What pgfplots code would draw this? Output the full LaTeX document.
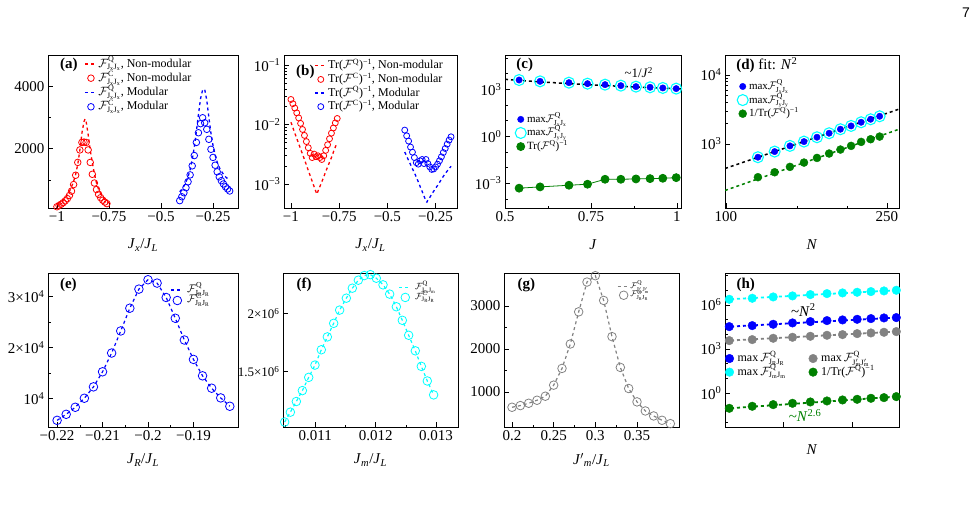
\documentclass[border=0pt]{standalone}
\usepackage{fontspec}
\setmainfont{Liberation Serif}
\setsansfont{Liberation Sans}
\usepackage{pgfplots}
\pgfplotsset{compat=1.18}
\definecolor{xgreen}{RGB}{0,128,0}
\definecolor{xcyan}{RGB}{0,255,255}
\definecolor{xgray}{RGB}{130,130,130}
\definecolor{xblue}{RGB}{0,0,255}
\definecolor{xred}{RGB}{255,0,0}
\newcommand{\tfont}{\fontsize{15}{17}\selectfont}
\newcommand{\JJ}[2]{\textit{J}\textsubscript{\textit{#1}}/\textit{J}\textsubscript{\textit{#2}}}
\newcommand{\FF}[2]{$\mathcal{F}^{\mathrm{#1}}_{\mathrm{#2}}$}
\tikzset{plab/.style={anchor=west, font=\bfseries\fontsize{15}{15}\selectfont}}
\pgfplotsset{
  panel/.style={scale only axis, anchor=south west, height=153pt,
    axis line style={line width=0.7pt}, tick align=inside, xtick pos=bottom, ytick pos=left,
    major tick length=5pt, minor tick length=2.5pt,
    every tick/.append style={line width=0.6pt, black},
    tick label style={font=\tfont},
    xlabel style={font=\tfont, at={(axis description cs:0.5,0)}, anchor=center, yshift=-37pt},
    /pgf/number format/assume math mode=true, /pgf/number format/1000 sep={},
    scaled ticks=false,
    legend cell align=left,
    legend style={draw=none, fill=none, anchor=north west, inner sep=0pt, row sep=0pt,
       nodes={inner sep=0.8pt, text height=9.5pt, text depth=3.2pt}},
  },
  lline/.style={legend image code/.code={\draw[#1, dashed, line width=1.3pt] (0pt,0pt) -- (12pt,0pt);}},
  lsline/.style={legend image code/.code={\draw[#1, dashed, line width=1.2pt] (0pt,0pt) -- (9pt,0pt);}},
  lmark/.style={legend image code/.code={\draw[##1] plot coordinates {(6pt,0pt)};}},
}
\begin{document}
\begin{tikzpicture}
\useasboundingbox (0pt,0pt) rectangle (974pt,507pt);
\node[font=\sffamily\fontsize{14}{14}\selectfont] at (966pt,494pt) {7};

% ---------------- (a)
\begin{axis}[panel, at={(48pt,299pt)}, width=190pt, xmin=-1.043, xmax=-0.13, ymin=100, ymax=5000,
  xtick={-1,-0.75,-0.5,-0.25}, xticklabels={−1,−0.75,−0.5,−0.25},
  ytick={2000,4000}, minor ytick={1000,3000},
  xlabel={\JJ{x}{L}},
  legend style={at={(0.19,0.99)}, font=\fontsize{12}{13}\selectfont}]
\addplot[xred, dashed, line width=1.3pt, lline=xred] coordinates {
(-1.00,200)(-0.99,240)(-0.98,290)(-0.97,350)(-0.96,420)(-0.95,510)(-0.94,630)(-0.93,780)(-0.92,950)(-0.91,1180)(-0.90,1500)(-0.89,1950)(-0.88,2500)(-0.87,2870)(-0.865,2950)(-0.86,2880)(-0.85,2450)(-0.84,1950)(-0.83,1550)(-0.82,1200)(-0.81,900)(-0.80,700)(-0.79,560)(-0.78,450)(-0.77,370)(-0.76,310)(-0.75,260)};
\addlegendentry{\FF{Q}{J_xJ_x}, Non-modular}
\addplot[xred, only marks, mark=o, mark size=3.3pt, mark options={line width=0.8pt}, lmark] coordinates {
(-1.00,140)(-0.99,180)(-0.98,220)(-0.97,270)(-0.96,330)(-0.95,400)(-0.94,500)(-0.93,640)(-0.92,850)(-0.91,1150)(-0.90,1560)(-0.89,1960)(-0.88,2200)(-0.87,2210)(-0.86,2200)(-0.85,1960)(-0.84,1560)(-0.83,1180)(-0.82,900)(-0.81,690)(-0.80,540)(-0.79,430)(-0.78,350)(-0.77,290)(-0.76,240)};
\addlegendentry{\FF{C}{J_xJ_x}, Non-modular}
\addplot[xblue, dashed, line width=1.3pt, lline=xblue] coordinates {
(-0.41,620)(-0.40,700)(-0.39,800)(-0.38,930)(-0.37,1100)(-0.36,1330)(-0.35,1650)(-0.34,2050)(-0.33,2550)(-0.32,3100)(-0.31,3600)(-0.30,3880)(-0.29,3900)(-0.28,3550)(-0.27,3000)(-0.26,2500)(-0.25,2100)(-0.24,1800)(-0.23,1570)(-0.22,1400)(-0.21,1280)(-0.20,1180)(-0.19,1100)(-0.18,1040)(-0.17,990)};
\addlegendentry{\FF{Q}{J_xJ_x}, Modular}
\addplot[xblue, only marks, mark=o, mark size=3.3pt, mark options={line width=0.8pt}, lmark] coordinates {
(-0.41,335)(-0.40,460)(-0.39,590)(-0.38,750)(-0.37,940)(-0.36,1160)(-0.35,1450)(-0.34,1780)(-0.33,2200)(-0.32,2510)(-0.31,2800)(-0.30,2990)(-0.29,2830)(-0.28,2620)(-0.27,2300)(-0.26,1980)(-0.25,1720)(-0.24,1470)(-0.23,1260)(-0.22,1100)(-0.21,975)(-0.20,870)(-0.19,780)(-0.18,710)(-0.17,645)};
\addlegendentry{\FF{C}{J_xJ_x}, Modular}
\node[plab] at (rel axis cs:0.045,0.935) {(a)};
\end{axis}

% ---------------- (b)
\begin{axis}[panel, at={(284pt,299pt)}, width=173pt, xmin=-1.036, xmax=-0.139, ymode=log, ymin=3.98e-4, ymax=0.148,
  xtick={-1,-0.75,-0.5,-0.25}, xticklabels={−1,−0.75,−0.5,−0.25},
  ytick={1e-3,1e-2,1e-1}, yticklabels={10\textsuperscript{−3},10\textsuperscript{−2},10\textsuperscript{−1}},
  xlabel={\JJ{x}{L}},
  legend style={at={(0.173,0.975)}, font=\fontsize{12}{13}\selectfont, nodes={text height=9pt, text depth=3pt}}]
\addplot[xred, dashed, line width=1.3pt, lline=xred] coordinates {
(-1.00,1.1e-2)(-0.99,8.9e-3)(-0.98,7.2e-3)(-0.97,5.9e-3)(-0.96,4.8e-3)(-0.95,3.9e-3)(-0.94,3.2e-3)(-0.93,2.6e-3)(-0.92,2.1e-3)(-0.91,1.7e-3)(-0.90,1.38e-3)(-0.89,1.12e-3)(-0.88,9.1e-4)(-0.87,7.4e-4)(-0.865,6.8e-4)(-0.86,7.6e-4)(-0.85,9.1e-4)(-0.84,1.1e-3)(-0.83,1.32e-3)(-0.82,1.62e-3)(-0.81,1.95e-3)(-0.80,2.35e-3)(-0.79,2.8e-3)(-0.78,3.45e-3)(-0.77,4.2e-3)(-0.76,5.0e-3)};
\addlegendentry{Tr(\FF{Q}{})\textsuperscript{−1}, Non-modular}
\addplot[xred, only marks, mark=o, mark size=3.0pt, mark options={line width=0.8pt}, lmark] coordinates {
(-1.00,2.65e-2)(-0.99,2.25e-2)(-0.98,1.9e-2)(-0.97,1.58e-2)(-0.96,1.3e-2)(-0.95,1.05e-2)(-0.94,8.3e-3)(-0.93,6.6e-3)(-0.92,5.2e-3)(-0.91,4.1e-3)(-0.90,3.3e-3)(-0.89,2.8e-3)(-0.88,3.2e-3)(-0.87,2.9e-3)(-0.86,3.0e-3)(-0.85,2.8e-3)(-0.84,2.6e-3)(-0.83,3.0e-3)(-0.82,3.7e-3)(-0.81,4.6e-3)(-0.80,5.8e-3)(-0.79,7.2e-3)(-0.78,8.8e-3)(-0.77,1.07e-2)(-0.76,1.27e-2)};
\addlegendentry{Tr(\FF{C}{})\textsuperscript{−1}, Non-modular}
\addplot[xblue, dashed, line width=1.3pt, lline=xblue] coordinates {
(-0.41,3.47e-3)(-0.40,2.95e-3)(-0.39,2.5e-3)(-0.38,2.14e-3)(-0.37,1.82e-3)(-0.36,1.55e-3)(-0.35,1.32e-3)(-0.34,1.1e-3)(-0.33,9.1e-4)(-0.32,7.6e-4)(-0.31,6.3e-4)(-0.30,5.2e-4)(-0.295,5.0e-4)(-0.29,5.4e-4)(-0.28,6.0e-4)(-0.27,6.8e-4)(-0.26,7.6e-4)(-0.25,8.5e-4)(-0.24,9.5e-4)(-0.23,1.07e-3)(-0.22,1.2e-3)(-0.21,1.35e-3)(-0.20,1.51e-3)(-0.19,1.66e-3)(-0.18,1.82e-3)(-0.17,2.0e-3)};
\addlegendentry{Tr(\FF{Q}{})\textsuperscript{−1}, Modular}
\addplot[xblue, only marks, mark=o, mark size=3.0pt, mark options={line width=0.8pt}, lmark] coordinates {
(-0.41,8.1e-3)(-0.40,6.5e-3)(-0.39,5.3e-3)(-0.38,4.2e-3)(-0.37,3.45e-3)(-0.36,2.8e-3)(-0.35,2.3e-3)(-0.34,2.17e-3)(-0.33,2.47e-3)(-0.32,2.6e-3)(-0.31,2.22e-3)(-0.30,2.6e-3)(-0.29,2.22e-3)(-0.28,1.95e-3)(-0.27,1.77e-3)(-0.26,1.8e-3)(-0.25,1.95e-3)(-0.24,2.17e-3)(-0.23,2.47e-3)(-0.22,2.88e-3)(-0.21,3.4e-3)(-0.20,3.98e-3)(-0.19,4.7e-3)(-0.18,5.5e-3)(-0.17,6.25e-3)};
\addlegendentry{Tr(\FF{C}{})\textsuperscript{−1}, Modular}
\node[plab] at (rel axis cs:0.05,0.89) {(b)};
\end{axis}

% ---------------- (c)
\begin{axis}[panel, at={(505pt,299pt)}, width=176pt, xmin=0.5, xmax=1.012, ymode=log, ymin=2.6e-5, ymax=1.55e5,
  xtick={0.5,0.75,1}, xticklabels={0.5,0.75,1}, minor xtick={0.625,0.875},
  ytick={1e-3,1,1e3}, yticklabels={10\textsuperscript{−3},10\textsuperscript{0},10\textsuperscript{3}},
  minor ytick={1e-4,1e-2,1e-1,10,100,1e4,1e5},
  xlabel={\textit{J}},
  legend style={at={(0.057,0.625)}, font=\fontsize{11}{12}\selectfont, nodes={text height=9pt, text depth=3pt}}]
\addplot[black, dashed, line width=1.5pt, forget plot] coordinates {
(0.5,4320)(0.6,3000)(0.7,2204)(0.8,1688)(0.9,1333)(1.0,1080)(1.012,1055)};
\addplot[xblue, only marks, mark=*, mark size=3.2pt, lmark] coordinates {
(0.541,3908)(0.602,3213)(0.686,2649)(0.740,2287)(0.791,1977)(0.837,1709)(0.881,1476)(0.922,1340)(0.959,1216)(0.998,1103)};
\addlegendentry{max\FF{Q}{J_xJ_x}}
\addplot[xcyan, only marks, mark=o, mark size=5.5pt, mark options={line width=1.1pt}, lmark] coordinates {
(0.541,3908)(0.602,3213)(0.686,2649)(0.740,2287)(0.791,1977)(0.837,1709)(0.881,1476)(0.922,1340)(0.959,1216)(0.998,1103)};
\addlegendentry{max\FF{Q}{J_yJ_y}}
\addplot[xgreen, solid, line width=0.8pt, mark=*, mark size=4pt, lmark] coordinates {
(0.541,4.8e-4)(0.602,5.8e-4)(0.686,7.4e-4)(0.740,8.6e-4)(0.791,1.78e-3)(0.837,1.78e-3)(0.881,1.87e-3)(0.922,1.96e-3)(0.959,2.06e-3)(0.998,2.26e-3)};
\addlegendentry{Tr(\FF{Q}{})\textsuperscript{−1}}
\node[plab] at (rel axis cs:0.045,0.935) {(c)};
\node[anchor=center, font=\fontsize{13}{13}\selectfont] at (rel axis cs:0.76,0.885) {\textasciitilde1/\textit{J}\textsuperscript{2}};
\end{axis}

% ---------------- (d)
\begin{axis}[panel, at={(725pt,299pt)}, width=174pt, xmode=log, xmin=99.5, xmax=268, ymode=log, ymin=117.5, ymax=19500,
  xtick={100,250}, xticklabels={100,250}, minor xtick={150,200},
  ytick={1e3,1e4}, yticklabels={10\textsuperscript{3},10\textsuperscript{4}}, minor ytick={},
  xlabel={\textit{N}},
  legend style={at={(0.069,0.84)}, font=\fontsize{11}{12}\selectfont, nodes={text height=9pt, text depth=3pt}}]
\addplot[black, dashed, line width=1.5pt, forget plot] coordinates {(99.5,440)(268,3192)};
\addplot[xgreen, dashed, line width=1.5pt, forget plot] coordinates {(99.5,211)(268,1633)};
\addplot[xblue, only marks, mark=*, mark size=3.2pt, lmark] coordinates {
(120,641)(132,774)(144,936)(156,1081)(168,1249)(180,1428)(192,1633)(204,1824)(216,2061)(228,2277)(240,2517)};
\addlegendentry{max\FF{Q}{J_xJ_x}}
\addplot[xcyan, only marks, mark=o, mark size=5.5pt, mark options={line width=1.1pt}, lmark] coordinates {
(120,641)(132,774)(144,936)(156,1081)(168,1249)(180,1428)(192,1633)(204,1824)(216,2061)(228,2277)(240,2517)};
\addlegendentry{max\FF{Q}{J_yJ_y}}
\addplot[xgreen, only marks, mark=*, mark size=4pt, lmark] coordinates {
(120,329)(132,388)(144,464)(156,536)(168,626)(180,725)(192,828)(204,936)(216,1069)(228,1169)(240,1277)};
\addlegendentry{1/Tr(\FF{Q}{})\textsuperscript{−1}}
\node[anchor=west, font=\fontsize{15}{15}\selectfont] at (rel axis cs:0.045,0.935) {\textbf{(d)} fit: \textit{N}\textsuperscript{2}};
\end{axis}

% ---------------- (e)
\begin{axis}[panel, at={(48pt,80pt)}, width=190pt, height=154pt, xmin=-0.222, xmax=-0.1802, ymin=4430, ymax=34600,
  xtick={-0.22,-0.21,-0.2,-0.19}, xticklabels={−0.22,−0.21,−0.2,−0.19}, minor x tick num=1,
  ytick={10000,20000,30000}, yticklabels={10\textsuperscript{4},2×10\textsuperscript{4},3×10\textsuperscript{4}}, minor y tick num=1,
  xlabel={\JJ{R}{L}}, xlabel style={yshift=4pt},
  legend style={at={(0.645,0.925)}, font=\fontsize{11}{12}\selectfont, nodes={text height=7pt, text depth=2.5pt, inner sep=0.5pt}, /tikz/every odd column/.append style={column sep=5pt}}]
\addplot[xblue, dashed, line width=1.2pt, lsline=xblue] coordinates {
(-0.220,5738)(-0.218,6918)(-0.216,8295)(-0.214,10066)(-0.212,12295)(-0.210,15246)(-0.208,18918)(-0.206,23246)(-0.204,27705)(-0.202,31443)(-0.200,33279)(-0.198,32623)(-0.196,29803)(-0.194,25738)(-0.192,21475)(-0.190,17672)(-0.188,14459)(-0.186,12033)(-0.184,10131)(-0.182,8492)};
\addlegendentry{\FF{Q}{J_RJ_R}}
\addplot[xblue, only marks, mark=o, mark size=4.3pt, mark options={line width=0.8pt}, lmark] coordinates {
(-0.220,5738)(-0.218,6918)(-0.216,8295)(-0.214,10066)(-0.212,12295)(-0.210,15246)(-0.208,18918)(-0.206,23246)(-0.204,27705)(-0.202,31443)(-0.200,33279)(-0.198,32623)(-0.196,29803)(-0.194,25738)(-0.192,21475)(-0.190,17672)(-0.188,14459)(-0.186,12033)(-0.184,10131)(-0.182,8492)};
\addlegendentry{\FF{C}{J_RJ_R}}
\node[plab] at (rel axis cs:0.045,0.922) {(e)};
\end{axis}

% ---------------- (f)
\begin{axis}[panel, at={(283pt,80pt)}, width=175pt, height=154pt, xmin=0.010464, xmax=0.013365, ymin=1.023e6, ymax=2.351e6,
  xtick={0.011,0.012,0.013}, xticklabels={0.011,0.012,0.013}, minor xtick={0.0105,0.0115,0.0125},
  ytick={1.5e6,2e6}, yticklabels={1.5×10\textsuperscript{6},2×10\textsuperscript{6}},
  yticklabel style={font=\fontsize{13}{14}\selectfont},
  xlabel={\JJ{m}{L}}, xlabel style={yshift=4pt},
  legend style={at={(0.66,0.94)}, font=\fontsize{9.5}{10}\selectfont, nodes={text height=6.5pt, text depth=2.5pt, inner sep=0.5pt}, /tikz/every odd column/.append style={column sep=5pt}}]
\addplot[xcyan, dashed, line width=1.2pt, lsline=xcyan] coordinates {
(0.010492,1.066e6)(0.010586,1.151e6)(0.010685,1.243e6)(0.010785,1.337e6)(0.010890,1.451e6)(0.010994,1.557e6)(0.011099,1.689e6)(0.011199,1.800e6)(0.011304,1.917e6)(0.011403,2.031e6)(0.011514,2.134e6)(0.011613,2.220e6)(0.011713,2.289e6)(0.011812,2.329e6)(0.011912,2.337e6)(0.012011,2.306e6)(0.012122,2.249e6)(0.012232,2.169e6)(0.012343,2.060e6)(0.012442,1.943e6)(0.012547,1.814e6)(0.012657,1.680e6)(0.012757,1.546e6)(0.012856,1.420e6)(0.012961,1.300e6)};
\addlegendentry{\FF{Q}{J_mJ_m}}
\addplot[xcyan, only marks, mark=o, mark size=4.3pt, mark options={line width=0.8pt}, lmark] coordinates {
(0.010492,1.066e6)(0.010586,1.151e6)(0.010685,1.243e6)(0.010785,1.337e6)(0.010890,1.451e6)(0.010994,1.557e6)(0.011099,1.689e6)(0.011199,1.800e6)(0.011304,1.917e6)(0.011403,2.031e6)(0.011514,2.134e6)(0.011613,2.220e6)(0.011713,2.289e6)(0.011812,2.329e6)(0.011912,2.337e6)(0.012011,2.306e6)(0.012122,2.249e6)(0.012232,2.169e6)(0.012343,2.060e6)(0.012442,1.943e6)(0.012547,1.814e6)(0.012657,1.680e6)(0.012757,1.546e6)(0.012856,1.420e6)(0.012961,1.300e6)};
\addlegendentry{\FF{C}{J_RJ_R}}
\node[plab] at (rel axis cs:0.057,0.922) {(f)};
\end{axis}

% ---------------- (g)
\begin{axis}[panel, at={(504pt,80pt)}, width=175pt, height=154pt, xmin=0.1904, xmax=0.4004, ymin=183, ymax=3763,
  xtick={0.2,0.25,0.3,0.35}, minor x tick num=1,
  ytick={1000,2000,3000}, minor y tick num=1,
  xlabel={\textit{J}$'$\textsubscript{\textit{m}}/\textit{J}\textsubscript{\textit{L}}}, xlabel style={yshift=4pt},
  legend style={at={(0.645,0.94)}, font=\fontsize{8.5}{9}\selectfont, nodes={text height=5.5pt, text depth=2pt, inner sep=0.5pt}, /tikz/every odd column/.append style={column sep=2pt}}]
\addplot[xgray, dashed, line width=1.2pt, lsline=xgray] coordinates {
(0.20,642)(0.21,681)(0.22,735)(0.23,805)(0.24,899)(0.25,1156)(0.26,1545)(0.27,2113)(0.28,2860)(0.29,3553)(0.30,3700)(0.31,3125)(0.32,2284)(0.33,1568)(0.34,1078)(0.35,767)(0.36,556)(0.37,440)(0.38,339)(0.39,261)};
\addlegendentry{\FF{Q}{J'_mJ'_m}}
\addplot[xgray, only marks, mark=o, mark size=4.3pt, mark options={line width=0.8pt}, lmark] coordinates {
(0.20,642)(0.21,681)(0.22,735)(0.23,805)(0.24,899)(0.25,1156)(0.26,1545)(0.27,2113)(0.28,2860)(0.29,3553)(0.30,3700)(0.31,3125)(0.32,2284)(0.33,1568)(0.34,1078)(0.35,767)(0.36,556)(0.37,440)(0.38,339)(0.39,261)};
\addlegendentry{\FF{C}{J_RJ_R}}
\node[plab] at (rel axis cs:0.057,0.922) {(g)};
\end{axis}

% ---------------- (h)
\begin{axis}[panel, at={(725pt,80pt)}, width=174pt, height=154pt, xmode=log, xmin=117.9, xmax=242.7, ymode=log, ymin=4.8e-3, ymax=1.5e8,
  xtick={150,200}, xticklabels={}, 
  ytick={1,1e3,1e6}, yticklabels={10\textsuperscript{0},10\textsuperscript{3},10\textsuperscript{6}},
  minor ytick={1e-2,1e-1,10,100,1e4,1e5,1e7,1e8},
  xlabel={\textit{N}}, xlabel style={yshift=14pt},
  legend columns=2, legend style={at={(0.0,0.49)}, font=\fontsize{12}{13}\selectfont, nodes={text height=9pt, text depth=3pt}, /tikz/every even column/.append style={column sep=22pt}, /tikz/every odd column/.append style={column sep=3pt}}]
\addplot[xcyan, dashed, line width=1.8pt, forget plot] coordinates {(117.9,2.35e6)(242.7,1.02e7)};
\addplot[xblue, dashed, line width=1.8pt, forget plot] coordinates {(117.9,3.2e4)(242.7,1.4e5)};
\addplot[xgray, dashed, line width=1.8pt, forget plot] coordinates {(117.9,3.6e3)(242.7,1.55e4)};
\addplot[xgreen, dashed, line width=1.8pt, forget plot] coordinates {(117.9,0.086)(242.7,0.58)};
\addplot[xblue, only marks, mark=*, mark size=4.3pt, lmark] coordinates {
(120,3.33e4)(132,3.90e4)(144,4.81e4)(156,5.93e4)(168,7.31e4)(180,8.55e4)(192,9.49e4)(204,1.05e5)(216,1.17e5)(228,1.30e5)(240,1.37e5)};
\addlegendentry{max\,\FF{Q}{J_RJ_R}}
\addplot[xgray, only marks, mark=*, mark size=4.3pt, lmark] coordinates {
(120,3.71e3)(132,4.34e3)(144,5.35e3)(156,6.25e3)(168,7.31e3)(180,8.55e3)(192,9.50e3)(204,1.11e4)(216,1.23e4)(228,1.37e4)(240,1.52e4)};
\addlegendentry{max\,\FF{Q}{J'_mJ'_m}}
\addplot[xcyan, only marks, mark=*, mark size=4.3pt, lmark] coordinates {
(120,2.43e6)(132,2.85e6)(144,3.51e6)(156,4.11e6)(168,5.06e6)(180,5.92e6)(192,6.58e6)(204,7.31e6)(216,8.11e6)(228,9.0e6)(240,1.0e7)};
\addlegendentry{max\,\FF{Q}{J_mJ_m}}
\addplot[xgreen, only marks, mark=*, mark size=4.3pt, lmark] coordinates {
(120,0.0903)(132,0.124)(144,0.161)(156,0.198)(168,0.244)(180,0.286)(192,0.334)(204,0.371)(216,0.434)(228,0.482)(240,0.564)};
\addlegendentry{1/Tr(\FF{Q}{})\textsuperscript{−1}}
\node[plab] at (rel axis cs:0.046,0.92) {(h)};
\node[font=\fontsize{15}{15}\selectfont] at (rel axis cs:0.45,0.76) {\textasciitilde\textit{N}\textsuperscript{2}};
\node[font=\fontsize{15}{15}\selectfont, text=xgreen] at (rel axis cs:0.46,0.075) {\textasciitilde\textit{N}\textsuperscript{2.6}};
\end{axis}
\end{tikzpicture}
\end{document}
